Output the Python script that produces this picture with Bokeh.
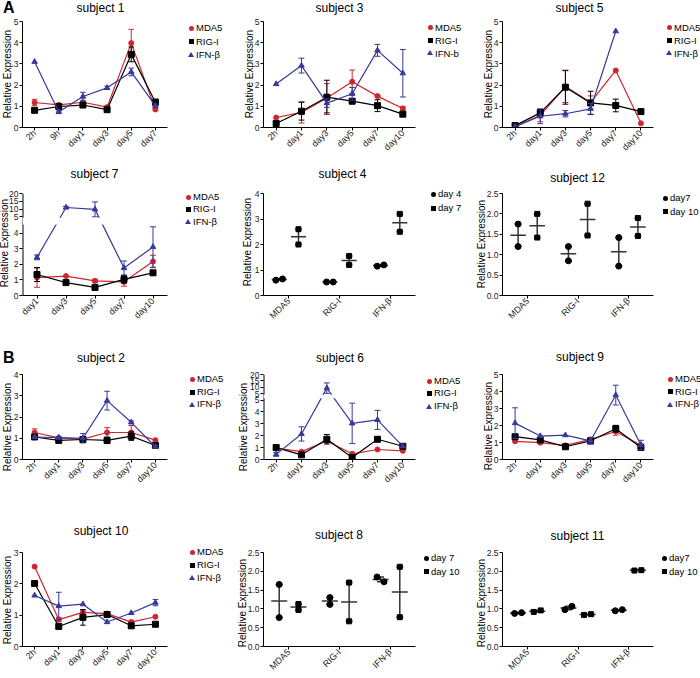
import math
import numpy as np
from bokeh.plotting import figure
from bokeh.models import (Range1d, FixedTicker, Div, GridBox,
                          BoxAnnotation, CustomJSTickFormatter, NumeralTickFormatter)
from bokeh.embed import file_html
from bokeh.resources import INLINE

FONT = "Liberation Sans"
RED = "#d0262f"
INK = "#000000"
BLUE = "#38399a"
BAR = "#333333"
NAN = float("nan")

# ---------------- time-course data (mean, error) ----------------
s1_days = ["2h", "9h", "day1", "day3", "day5", "day7"]
s1_mda5 = [1.18, 1.07, 1.19, 0.96, 3.98, 0.85]
s1_mda5_err = [0.15, 0.0, 0.05, 0.05, 0.65, 0.05]
s1_rig = [0.81, 0.99, 1.06, 0.84, 3.45, 1.19]
s1_rig_err = [0.05, 0.05, 0.05, 0.05, 0.35, 0.15]
s1_ifn = [3.10, 0.73, 1.46, 1.87, 2.62, 1.02]
s1_ifn_err = [0.0, 0.05, 0.20, 0.08, 0.18, 0.08]

s3_days = ["2h", "day1", "day3", "day5", "day7", "day10"]
s3_mda5 = [0.47, 0.71, 1.39, 2.16, 1.48, 0.90]
s3_mda5_err = [0.0, 0.50, 0.68, 0.55, 0.05, 0.08]
s3_rig = [0.19, 0.77, 1.43, 1.24, 1.03, 0.63]
s3_rig_err = [0.0, 0.42, 0.80, 0.0, 0.28, 0.05]
s3_ifn = [2.05, 2.92, 1.15, 1.59, 3.64, 2.56]
s3_ifn_err = [0.0, 0.35, 0.20, 0.30, 0.28, 1.12]

s5_days = ["2h", "day1", "day3", "day5", "day7", "day10"]
s5_mda5 = [0.03, 0.57, 1.93, 1.19, 2.69, 0.20]
s5_mda5_err = [0.0, 0.30, 0.75, 0.30, 0.0, 0.0]
s5_rig = [0.09, 0.69, 1.90, 1.16, 1.04, 0.75]
s5_rig_err = [0.0, 0.15, 0.80, 0.55, 0.30, 0.0]
s5_ifn = [0.05, 0.53, 0.65, 0.88, 4.54, NAN]
s5_ifn_err = [0.0, 0.35, 0.15, 0.25, 0.0, 0.0]

s7_days = ["day1", "day3", "day5", "day7", "day10"]
s7_mda5 = [1.15, 1.25, 0.94, 0.88, 2.19]
s7_mda5_err = [0.62, 0.0, 0.10, 0.28, 0.40]
s7_rig = [1.35, 0.83, 0.52, 1.04, 1.46]
s7_rig_err = [0.45, 0.0, 0.12, 0.25, 0.0]
s7_ifn = [2.45, 11.0, 9.8, 1.77, 3.12]
s7_ifn_err = [0.15, 0.70, 4.8, 0.45, 1.30]

s2_days = ["2h", "day1", "day3", "day5", "day7", "day10"]
s2_mda5 = [1.27, 1.02, 0.96, 1.27, 1.27, 0.91]
s2_mda5_err = [0.17, 0.0, 0.0, 0.23, 0.33, 0.0]
s2_rig = [1.06, 0.90, 0.94, 0.90, 1.10, 0.66]
s2_rig_err = [0.05, 0.10, 0.10, 0.15, 0.20, 0.05]
s2_ifn = [1.06, 1.03, 1.00, 2.77, 1.75, 0.60]
s2_ifn_err = [0.0, 0.05, 0.22, 0.44, 0.06, 0.07]

s6_days = ["2h", "day1", "day3", "day5", "day7", "day10"]
s6_mda5 = [0.95, 0.66, 1.56, 0.48, 0.84, 0.73]
s6_mda5_err = [0.0, 0.0, 0.0, 0.0, 0.0, 0.0]
s6_rig = [1.00, 0.39, 1.70, 0.16, 1.70, 1.11]
s6_rig_err = [0.20, 0.10, 0.40, 0.0, 0.10, 0.08]
s6_ifn = [0.43, 2.15, 9.5, 3.04, 3.33, 1.11]
s6_ifn_err = [0.15, 0.60, 4.0, 1.70, 0.80, 0.0]

s9_days = ["2h", "day1", "day3", "day5", "day7", "day10"]
s9_mda5 = [1.07, 0.99, 0.83, 1.18, 1.65, 0.83]
s9_mda5_err = [0.0, 0.0, 0.0, 0.0, 0.22, 0.0]
s9_rig = [1.34, 1.15, 0.75, 1.10, 1.81, 0.71]
s9_rig_err = [0.05, 0.0, 0.03, 0.0, 0.20, 0.05]
s9_ifn = [2.14, 1.38, 1.43, 1.10, 3.79, 0.85]
s9_ifn_err = [0.90, 0.0, 0.0, 0.20, 0.58, 0.28]

s10_days = ["2h", "day1", "day3", "day5", "day7", "day10"]
s10_mda5 = [2.55, 0.86, 1.09, 1.05, 0.78, 0.95]
s10_mda5_err = [0.0, 0.07, 0.07, 0.0, 0.05, 0.0]
s10_rig = [2.01, 0.64, 0.93, 1.02, 0.66, 0.71]
s10_rig_err = [0.05, 0.03, 0.25, 0.03, 0.05, 0.0]
s10_ifn = [1.63, 1.29, 1.35, 0.78, 1.07, 1.40]
s10_ifn_err = [0.0, 0.44, 0.0, 0.0, 0.0, 0.10]

# ---------------- paired replicate data ----------------
genes = ["MDA5", "RIG-I", "IFN-β"]

s4_days = ["day 4", "day 7"]
s4_first = [[0.60, 0.65], [0.53, 0.53], [1.15, 1.20]]
s4_second = [[2.60, 2.00], [1.55, 1.20], [3.20, 2.50]]

s12_days = ["day7", "day 10"]
s12_first = [[1.75, 1.20], [1.20, 0.85], [1.42, 0.72]]
s12_second = [[2.00, 1.42], [2.25, 1.47], [1.90, 1.46]]

s8_days = ["day 7", "day 10"]
s8_first = [[1.65, 0.77], [1.30, 1.12], [1.85, 1.72]]
s8_second = [[1.13, 0.97], [1.70, 0.67], [2.12, 0.78]]

s11_days = ["day7", "day 10"]
s11_first = [[0.88, 0.90], [0.98, 1.07], [0.95, 0.98]]
s11_second = [[0.92, 0.96], [0.84, 0.86], [2.02, 2.03]]

# ---------------- page grid (pixels) ----------------
COLS = [(0, 232), (232, 232), (464, 236)]
ROWS = [(0, 165), (165, 165), (330, 160), (490, 188)]
PAGE_W, PAGE_H = 700, 678

overlay = []   # html texts (titles, axis titles, keys, letters) laid over the page


def text_span(text, left, top, width, height, size, extra=""):
    return (f'<span style="position:absolute;left:{left}px;top:{top}px;width:{width}px;'
            f'height:{height}px;line-height:{height}px;font-family:{FONT};font-size:{size}px;'
            f'color:#000;white-space:nowrap;{extra}">{text}</span>')


def key_html(entries, mx, my, row_h):
    """Key rows: marker centred at (mx, my + i*row_h), label just right of it."""
    parts = []
    for i, (label, color, shape) in enumerate(entries):
        cy = my + i * row_h
        if shape == "circle":
            st = (f"width:5px;height:5px;border-radius:50%;background:{color};"
                  f"left:{mx - 2.5}px;top:{cy - 2.5}px")
        elif shape == "square":
            st = f"width:5px;height:5px;background:{color};left:{mx - 2.5}px;top:{cy - 2.5}px"
        else:
            st = (f"width:0;height:0;border-left:3px solid transparent;"
                  f"border-right:3px solid transparent;border-bottom:5px solid {color};"
                  f"left:{mx - 3}px;top:{cy - 2.8}px")
        parts.append(f'<span style="position:absolute;{st}"></span>')
        parts.append(text_span(label, mx + 5, cy - row_h / 2, 60, row_h, 9.5))
    return "".join(parts)


def base_fig(title, col, rw, frame, ymax, nx, title_y, ylab_dx):
    cx, cw = COLS[col]
    ry, rh = ROWS[rw]
    x0, x1, y0, y1 = frame
    p = figure(width=cw, height=rh, output_backend="svg", toolbar_location=None,
               x_range=Range1d(-0.5, nx - 0.5), y_range=Range1d(0, ymax),
               min_border_left=x0 - cx, min_border_right=cx + cw - x1,
               min_border_top=y0 - ry, min_border_bottom=ry + rh - y1)
    p.xgrid.visible = False
    p.ygrid.visible = False
    p.outline_line_color = None
    for ax in (p.xaxis[0], p.yaxis[0]):
        ax.axis_line_color = INK
        ax.axis_line_width = 1
        ax.major_tick_line_color = INK
        ax.major_tick_out = 3
        ax.major_tick_in = 0
        ax.minor_tick_line_color = None
        ax.major_label_text_font = FONT
        ax.major_label_text_color = "#222222"
        ax.major_label_standoff = 1
    p.xaxis.major_label_text_font_size = "9px"
    p.yaxis.major_label_text_font_size = "8.5px"
    p.xaxis.ticker = FixedTicker(ticks=list(range(nx)))
    p.xaxis.major_label_orientation = math.pi / 4

    # panel title and rotated y-axis title
    fcx = (x0 + x1) / 2
    fcy = (y0 + y1) / 2
    overlay.append(text_span(title, fcx - 60, title_y - 8, 120, 16, 12, "text-align:center"))
    overlay.append(text_span("Relative Expression", x0 - ylab_dx - 70, fcy - 6, 140, 12, 10,
                             "text-align:center;transform:rotate(-90deg)"))
    return p


def timecourse(title, col, rw, frame, days, series, ymax, title_y, ylab_dx=14, brk=None,
               dx=12, dy=6.5, row_h=13):
    p = base_fig(title, col, rw, frame, ymax, len(days), title_y, ylab_dx)
    x0, x1, y0, y1 = frame
    n = len(days)
    xs = np.arange(n, dtype=float)
    cap = 3.0 / ((x1 - x0) / n)

    def squash(a):
        if brk is None:
            return a
        return np.where(a > brk["cut"], brk["base"] + (a - 5) * brk["scale"], a)

    keys = []
    for label, vals, errs, color, marker, size in series:
        v = np.array(vals, float)
        e = np.array(errs, float)
        lo, hi, vm = squash(v - e), squash(v + e), squash(v)
        has = e > 0
        p.segment(x0=xs[has], y0=lo[has], x1=xs[has], y1=hi[has], color=color, line_width=1)
        for end in (lo, hi):
            p.segment(x0=xs[has] - cap, y0=end[has], x1=xs[has] + cap, y1=end[has],
                      color=color, line_width=1)
        p.line(xs, vm, color=color, line_width=1.2)
        p.scatter(xs, vm, marker=marker, size=size, color=color)
        keys.append((label, color, marker))

    if brk is not None:
        lower = brk["lower"]
        upper = [brk["base"] + (u - 5) * brk["scale"] for u in brk["upper"]]
        p.yaxis.ticker = FixedTicker(ticks=lower + upper)
        p.yaxis.formatter = CustomJSTickFormatter(
            args=dict(base=brk["base"], scale=brk["scale"]),
            code="return tick < base - 1e-6 ? tick.toFixed(0) : (5 + (tick - base) / scale).toFixed(0);")
        # axis line drawn as a glyph so the break band can interrupt it
        p.yaxis.axis_line_color = None
        p.segment(x0=p.x_range.start, y0=0, x1=p.x_range.start, y1=ymax,
                  color=INK, line_width=2)
        p.add_layout(BoxAnnotation(bottom=brk["gap"][0], top=brk["gap"][1],
                                   fill_color="white", fill_alpha=1.0,
                                   line_alpha=0))
    else:
        p.yaxis.ticker = FixedTicker(ticks=list(range(int(ymax) + 1)))

    p.xaxis.major_label_overrides = {i: d for i, d in enumerate(days)}
    overlay.append(key_html(keys, x1 + dx, y0 + dy, row_h))
    return p


def std_series(mda5, mda5_err, rig, rig_err, ifn, ifn_err, ifn_name="IFN-β"):
    return [("MDA5", mda5, mda5_err, RED, "circle", 5),
            ("RIG-I", rig, rig_err, INK, "square", 6),
            (ifn_name, ifn, ifn_err, BLUE, "triangle", 5.5)]


def replicate_panel(title, col, rw, frame, day_labels, first, second, ymax, yticks,
                    fmt, title_y, ylab_dx=20, dx=10, dy=6, row_h=14):
    p = base_fig(title, col, rw, frame, ymax, len(genes), title_y, ylab_dx)
    x0, x1, y0, y1 = frame
    px_x = (x1 - x0) / len(genes)
    px_y = (y1 - y0) / ymax
    sub = 0.19
    half_mean = 8.0 / px_x
    half_cap = 3.5 / px_x
    keys = []
    for k, (sets, marker, msize) in enumerate([(first, "circle", 6), (second, "square", 5)]):
        off = -sub if k == 0 else sub
        pts_x, pts_y = [], []
        for g, pair in enumerate(sets):
            arr = np.array(pair, float)
            m = arr.mean()
            sem = arr.std(ddof=1) / math.sqrt(len(arr))
            cx = g + off
            jit = 3.5 / px_x if abs(arr[0] - arr[1]) * px_y < 6 else 0.0
            pts_x += [cx - jit, cx + jit]
            pts_y += list(arr)
            p.segment(x0=[cx - half_mean], y0=[m], x1=[cx + half_mean], y1=[m],
                      color=BAR, line_width=1.5)
            p.segment(x0=[cx], y0=[m - sem], x1=[cx], y1=[m + sem], color=BAR, line_width=1.5)
            p.segment(x0=[cx - half_cap] * 2, y0=[m - sem, m + sem],
                      x1=[cx + half_cap] * 2, y1=[m - sem, m + sem], color=BAR, line_width=1.5)
        p.scatter(pts_x, pts_y, marker=marker, size=msize, color=INK)
        keys.append((day_labels[k], INK, marker))
    p.yaxis.ticker = FixedTicker(ticks=yticks)
    p.yaxis.formatter = NumeralTickFormatter(format=fmt)
    p.xaxis.major_label_overrides = {i: gname for i, gname in enumerate(genes)}
    overlay.append(key_html(keys, x1 + dx, y0 + dy, row_h))
    return p


# ---------------- panels ----------------
p1 = timecourse("subject 1", 0, 0, (22, 179, 21, 127), s1_days,
                std_series(s1_mda5, s1_mda5_err, s1_rig, s1_rig_err, s1_ifn, s1_ifn_err), 5,
                title_y=8, ylab_dx=14, dy=7, row_h=13.3)
p3 = timecourse("subject 3", 1, 0, (262, 417, 21, 127), s3_days,
                std_series(s3_mda5, s3_mda5_err, s3_rig, s3_rig_err, s3_ifn, s3_ifn_err,
                           ifn_name="IFN-b"), 5, title_y=8, ylab_dx=12, dx=13, dy=6)
p5 = timecourse("subject 5", 2, 0, (502, 657, 21, 127), s5_days,
                std_series(s5_mda5, s5_mda5_err, s5_rig, s5_rig_err, s5_ifn, s5_ifn_err), 5,
                title_y=7.5, ylab_dx=13, dy=6)

brk7 = dict(cut=4.6, base=5.06, scale=0.1, gap=(4.56, 5.0),
            lower=[0, 1, 2, 3, 4], upper=[5, 10, 15, 20])
p7 = timecourse("subject 7", 0, 1, (22, 167, 190, 295), s7_days,
                std_series(s7_mda5, s7_mda5_err, s7_rig, s7_rig_err, s7_ifn, s7_ifn_err),
                6.56, title_y=174, ylab_dx=17, brk=brk7, dx=21, dy=7, row_h=12.5)
p4 = replicate_panel("subject 4", 1, 1, (262, 423, 188, 295), s4_days, s4_first, s4_second,
                     4, [0, 1, 2, 3, 4], "0", title_y=174, ylab_dx=14)
p12 = replicate_panel("subject 12", 2, 1, (500, 655, 193, 295), s12_days, s12_first, s12_second,
                      2.5, [0, 0.5, 1.0, 1.5, 2.0, 2.5], "0.0", title_y=178, ylab_dx=18,
                      dy=5, row_h=13.5)

p2 = timecourse("subject 2", 0, 2, (22, 180, 373, 480), s2_days,
                std_series(s2_mda5, s2_mda5_err, s2_rig, s2_rig_err, s2_ifn, s2_ifn_err), 4,
                title_y=358, ylab_dx=14, dy=6.5, row_h=12.5)
brk6 = dict(cut=5.0, base=5.51, scale=0.109, gap=(5.15, 5.45),
            lower=[0, 1, 2, 3, 4, 5], upper=[5, 10, 15, 20])
p6 = timecourse("subject 6", 1, 2, (263, 417, 374, 479), s6_days,
                std_series(s6_mda5, s6_mda5_err, s6_rig, s6_rig_err, s6_ifn, s6_ifn_err),
                7.145, title_y=358, ylab_dx=19, brk=brk6, dy=7, row_h=12.7)
p9 = timecourse("subject 9", 2, 2, (502, 658, 373, 479), s9_days,
                std_series(s9_mda5, s9_mda5_err, s9_rig, s9_rig_err, s9_ifn, s9_ifn_err), 5,
                title_y=357, ylab_dx=13, dy=6.5, row_h=12.4)

p10 = timecourse("subject 10", 0, 3, (22, 180, 547, 653), s10_days,
                 std_series(s10_mda5, s10_mda5_err, s10_rig, s10_rig_err, s10_ifn, s10_ifn_err),
                 3, title_y=531, ylab_dx=14, dy=5.5, row_h=12.7)
p8 = replicate_panel("subject 8", 1, 3, (263, 415, 552, 653), s8_days, s8_first, s8_second,
                     2.5, [0, 0.5, 1.0, 1.5, 2.0, 2.5], "0.0", title_y=535, ylab_dx=20,
                     dx=11, dy=6, row_h=13.3)
p11 = replicate_panel("subject 11", 2, 3, (502, 653, 552, 653), s11_days, s11_first, s11_second,
                      2.5, [0, 0.5, 1.0, 1.5, 2.0, 2.5], "0.0", title_y=536, ylab_dx=20,
                      dx=11, dy=6, row_h=13.7)

# section letters
for letter, top in (("A", 0), ("B", 350)):
    overlay.append(text_span(letter, 3, top, 20, 16, 16, "font-weight:bold"))

page_text = Div(text=f'<div style="position:relative;width:{PAGE_W}px;height:{PAGE_H}px">'
                     + "".join(overlay) + "</div>",
                width=PAGE_W, height=PAGE_H, margin=0)

grid = GridBox(children=[(p1, 0, 0), (p3, 0, 1), (p5, 0, 2),
                         (p7, 1, 0), (p4, 1, 1), (p12, 1, 2),
                         (p2, 2, 0), (p6, 2, 1), (p9, 2, 2),
                         (p10, 3, 0), (p8, 3, 1), (p11, 3, 2),
                         (page_text, 0, 0, 4, 3)],
               spacing=0)

open("out.html", "w").write(file_html(grid, INLINE))
